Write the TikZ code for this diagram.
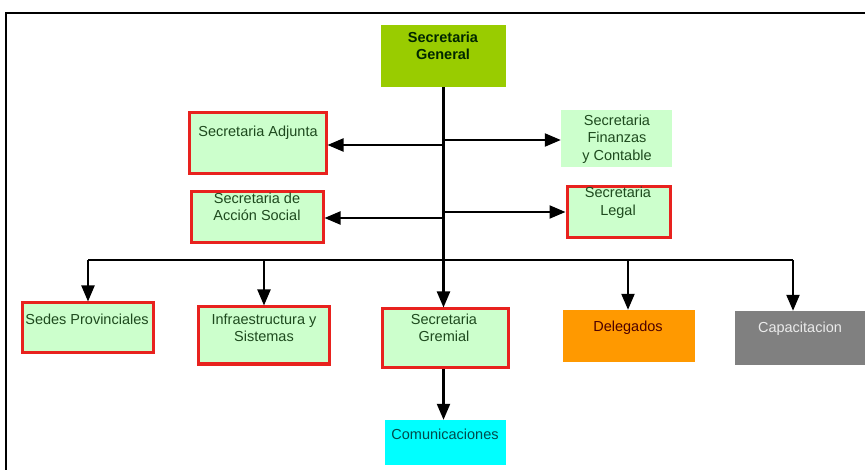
\documentclass[tikz,border=0pt]{standalone}
\usepackage{fontspec}
\setmainfont{Liberation Sans}
\usetikzlibrary{arrows.meta}
\definecolor{boxgreen}{HTML}{CCFFCC}
\definecolor{boxred}{HTML}{E8221E}
\definecolor{genfill}{HTML}{99CC00}
\definecolor{txtgreen}{HTML}{1E4A1E}
\definecolor{orangefill}{HTML}{FF9900}
\definecolor{grayfill}{HTML}{808080}
\definecolor{cyanfill}{HTML}{00FFFF}
\begin{document}
\begin{tikzpicture}[x=1pt,y=-1pt,
  unit/.style={draw=boxred,line width=3pt,fill=boxgreen,inner sep=0pt},
  plain/.style={draw=none,inner sep=0pt},
  lbl/.style={font=\fontsize{14.5}{17.5}\selectfont,align=center,text=txtgreen,inner sep=0pt},
  link/.style={line width=2.2pt,-{Triangle[length=16pt,width=13pt]}},
  wire/.style={line width=2.2pt}]
\useasboundingbox (0,0) rectangle (865,470);
\fill[white] (0,0) rectangle (865,470);
% outer frame
\draw[line width=2pt] (6,470) -- (6,13) -- (865,13);

% boxes
\node[plain,fill=genfill,minimum width=125pt,minimum height=62pt] (gen) at (443.5,56) {};
\node[unit,minimum width=137pt,minimum height=61pt] (adj) at (257.5,143.5) {};
\node[plain,fill=boxgreen,minimum width=111pt,minimum height=57pt] (fin) at (616.5,138.5) {};
\node[unit,minimum width=132pt,minimum height=51pt] (acc) at (257,217.5) {};
\node[unit,minimum width=103pt,minimum height=51pt] (leg) at (618.5,212.5) {};
\node[unit,minimum width=131pt,minimum height=50pt] (sed) at (87.5,328) {};
\node[unit,minimum width=131pt,minimum height=57pt] (inf) at (263.5,335.5) {};
\node[unit,minimum width=126pt,minimum height=58pt] (gre) at (445,338) {};
\node[plain,fill=orangefill,minimum width=132pt,minimum height=52pt] (del) at (629,336) {};
\node[plain,fill=grayfill,minimum width=131pt,minimum height=54pt] (cap) at (800.5,338) {};
\node[plain,fill=cyanfill,minimum width=121pt,minimum height=45pt] (com) at (445.5,442.5) {};

% labels
\node[lbl,font=\fontsize{14.5}{17.5}\selectfont\bfseries,text=black!85!green] at (443,46) {Secretaria\\General};
\node[lbl] at (258,133) {Secretaria Adjunta};
\node[lbl] at (617,139) {Secretaria\\Finanzas\\y Contable};
\node[lbl] at (257,207) {Secretaria de\\Acción Social};
\node[lbl] at (618,203) {Secretaria\\Legal};
\node[lbl] at (87,319) {Sedes Provinciales};
\node[lbl] at (264,328) {Infraestructura y\\Sistemas};
\node[lbl] at (444,328) {Secretaria\\Gremial};
\node[lbl,text=black!70!red] at (628,328) {Delegados};
\node[lbl,text=black!8] at (800,329) {Capacitacion};
\node[lbl,text=black!40!teal] at (445,434) {Comunicaciones};

% trunk
\coordinate (tA) at (443,145);
\coordinate (tF) at (443,140);
\coordinate (tS) at (443,218);
\coordinate (tL) at (443,212);
\coordinate (busL) at (88,260);
\coordinate (busI) at (264,260);
\coordinate (busG) at (443,260);
\coordinate (busD) at (628,260);
\coordinate (busR) at (793,260);

\draw[link] (gen.south) -- (gre.north -| gen.south);
\draw[link] (tA) -- (adj.east |- tA);
\draw[link] (tF) -- (fin.west |- tF);
\draw[link] (tS) -- (acc.east |- tS);
\draw[link] (tL) -- (leg.west |- tL);
\draw[wire] (busL) -- (busR);
\draw[link] (busL) -- (sed.north -| busL);
\draw[link] (busI) -- (inf.north -| busI);
\draw[link] (busD) -- (del.north -| busD);
\draw[link] (busR) -- (cap.north -| busR);
\draw[link] (gre.south -| gen.south) -- (com.north -| gen.south);
\end{tikzpicture}
\end{document}
